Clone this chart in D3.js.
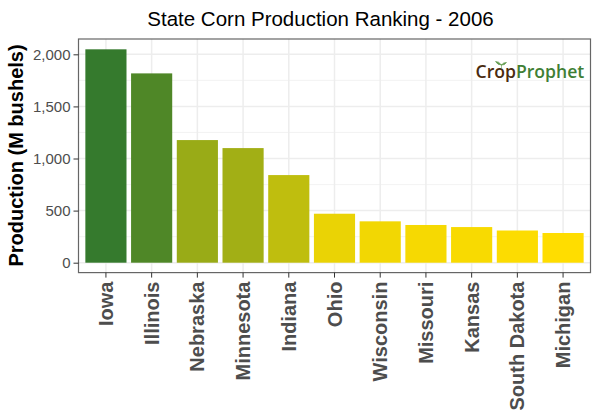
<!DOCTYPE html>
<html>
<head>
<meta charset="utf-8">
<script src="https://cdn.jsdelivr.net/npm/d3@7/dist/d3.min.js"></script>
<style>
  html, body { margin: 0; padding: 0; background: #fff; }
  svg { display: block; font-family: "Liberation Sans", Arial, sans-serif; }
</style>
</head>
<body>
<svg id="chart"></svg>
<script>
const states = ['Iowa', 'Illinois', 'Nebraska', 'Minnesota', 'Indiana', 'Ohio', 'Wisconsin', 'Missouri', 'Kansas', 'South Dakota', 'Michigan'];
const production = [2048, 1817, 1177, 1100, 841, 470, 397, 362, 342, 309, 285];
const majorTicks = [0, 500, 1000, 1500, 2000];
const minorTicks = [250, 750, 1250, 1750];

const width = 600, height = 420;
const panel = { left: 78.5, right: 590.5, top: 39, bottom: 272.6 };

const svg = d3.select('#chart').attr('width', width).attr('height', height);

const x = d3.scaleBand()
    .domain(states)
    .range([panel.left, panel.right])
    .paddingInner(0.1)
    .paddingOuter(0.15);
const y = d3.scaleLinear().domain([-95, 2147]).range([panel.bottom, panel.top]);
const fill = d3.scaleLinear()
    .domain([d3.min(production), d3.max(production)])
    .range(['#ffdd00', '#357a2d']);

// Grid lines sit under the bars, like the ggplot theme
const grid = svg.append('g');
grid.selectAll('.minor').data(minorTicks).join('line')
    .attr('class', 'minor')
    .attr('x1', panel.left).attr('x2', panel.right)
    .attr('y1', d => y(d)).attr('y2', d => y(d))
    .style('stroke', '#f0f0f0').style('stroke-width', 0.8);
grid.selectAll('.majorY').data(majorTicks).join('line')
    .attr('class', 'majorY')
    .attr('x1', panel.left).attr('x2', panel.right)
    .attr('y1', d => y(d)).attr('y2', d => y(d))
    .style('stroke', '#ededed').style('stroke-width', 1.5);
grid.selectAll('.majorX').data(states).join('line')
    .attr('class', 'majorX')
    .attr('x1', d => x(d) + x.bandwidth() / 2).attr('x2', d => x(d) + x.bandwidth() / 2)
    .attr('y1', panel.top).attr('y2', panel.bottom)
    .style('stroke', '#ededed').style('stroke-width', 1.5);

svg.append('g').selectAll('rect')
    .data(states)
    .join('rect')
    .attr('x', d => x(d))
    .attr('width', x.bandwidth())
    .attr('y', (d, i) => y(production[i]))
    .attr('height', (d, i) => y(0) - y(production[i]))
    .style('fill', (d, i) => fill(production[i]));

svg.append('rect')
    .attr('x', panel.left).attr('y', panel.top)
    .attr('width', panel.right - panel.left).attr('height', panel.bottom - panel.top)
    .style('fill', 'none').style('stroke', '#666').style('stroke-width', 1.2);

// Axes
const yAxis = svg.append('g')
    .attr('transform', `translate(${panel.left},0)`)
    .call(d3.axisLeft(y).tickValues(majorTicks).tickFormat(d3.format(',')).tickSize(5).tickPadding(3));
yAxis.select('.domain').remove();
yAxis.selectAll('line').style('stroke', '#333').style('stroke-width', 1);
yAxis.selectAll('text').style('font-size', '15px').style('fill', '#4d4d4d');

const xAxis = svg.append('g')
    .attr('transform', `translate(0,${panel.bottom})`)
    .call(d3.axisBottom(x).tickSize(5));
xAxis.select('.domain').remove();
xAxis.selectAll('line').style('stroke', '#333').style('stroke-width', 1);
xAxis.selectAll('text')
    .attr('transform', 'rotate(-90)')
    .attr('x', -9).attr('y', 0).attr('dy', '0.35em')
    .style('text-anchor', 'end')
    .style('font-size', '20px').style('font-weight', 'bold').style('fill', '#4d4d4d');

// Titles
svg.append('text')
    .attr('x', 320.5).attr('y', 25.5)
    .attr('text-anchor', 'middle')
    .style('font-size', '20.5px').style('fill', '#000')
    .text('State Corn Production Ranking - 2006');
svg.append('text')
    .attr('transform', 'translate(23,155.5) rotate(-90)')
    .attr('text-anchor', 'middle')
    .style('font-size', '20px').style('font-weight', 'bold').style('fill', '#000')
    .text('Production (M bushels)');

// Logo
const logo = svg.append('g').attr('transform', 'translate(475.5,78)');
const logoText = logo.append('text')
    .style('font-family', '"Open Sans", sans-serif')
    .style('font-size', '17.6px').style('font-weight', 600);
logoText.append('tspan').style('fill', '#4a2b10').text('Crop');
logoText.append('tspan').style('fill', '#3f7f35').text('Prophet');
logo.append('path')
    .attr('d', 'M26,-9 L26,-14 M26,-13 Q23,-17 20,-16.5 Q22,-13 26,-13 M26,-13 Q28,-16 31,-15.5 Q29,-12.5 26,-13')
    .style('fill', '#5f9a4c').style('stroke', '#5f9a4c').style('stroke-width', 0.6);
</script>
</body>
</html>
